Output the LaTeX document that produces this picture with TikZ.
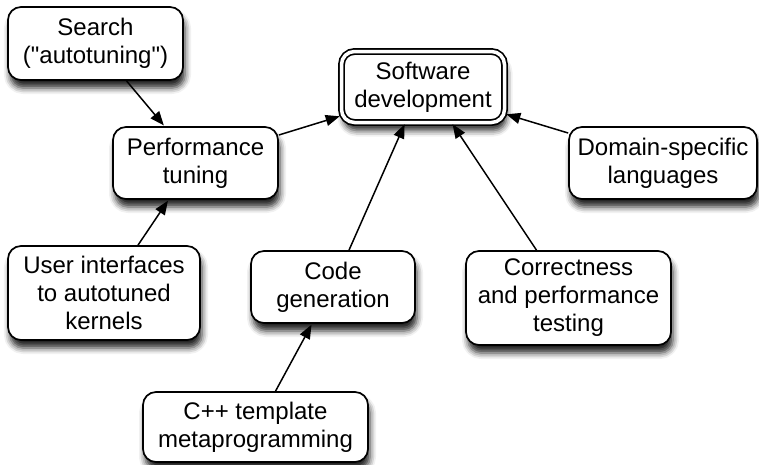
\documentclass[tikz,border=0pt]{standalone}
\usepackage{fontspec}
\setmainfont{Liberation Sans}[Ligatures=TeXOff]
\usepackage{tikz}
\usetikzlibrary{arrows.meta,%
                shadows.blur}

\begin{document}
\begin{tikzpicture}[x=1pt,y=-1pt,
    boxstyle/.style={rectangle, rounded corners=13pt, draw=black, fill=white, line width=1.7pt,
        align=center, font=\fontsize{24}{28}\selectfont,
        blur shadow={shadow xshift=2pt, shadow yshift=-8pt, shadow blur radius=6pt, shadow opacity=85}},
    linkstyle/.style={line width=1.5pt, -{Triangle[length=14pt,width=11pt]}, shorten >=1pt}]
    \useasboundingbox (0,0) rectangle (759,464);
    \node (search) at (95.5,43.5)[boxstyle, minimum width=175pt, minimum height=73pt]{Search\\("autotuning")};
    \node (perf) at (195.5,163)[boxstyle, minimum width=165pt, minimum height=72pt]{Performance\\tuning};
    \node (soft) at (423,87)[boxstyle, double, double distance=3.5pt, minimum width=163pt, minimum height=71pt]{Software\\development};
    \node (dsl) at (663,163)[boxstyle, minimum width=188pt, minimum height=72pt]{Domain-specific\\languages};
    \node (ui) at (104,293)[boxstyle, minimum width=192pt, minimum height=94pt]{User interfaces\\to autotuned\\kernels};
    \node (codegen) at (333,287)[boxstyle, minimum width=164pt, minimum height=72pt]{Code\\generation};
    \node (test) at (568.5,298)[boxstyle, minimum width=205pt, minimum height=94pt]{Correctness\\and performance\\testing};
    \node (cpp) at (255.5,427)[boxstyle, minimum width=225pt, minimum height=70pt]{C++ template\\metaprogramming};
    \draw[linkstyle] ([xshift=31pt]search.south) -- ([xshift=-31pt]perf.north);
    \draw[linkstyle] ([yshift=28pt]perf.east) -- ([yshift=-29pt]soft.west);
    \draw[linkstyle] ([xshift=34pt]ui.north) -- ([xshift=-27pt]perf.south);
    \draw[linkstyle] ([xshift=16pt]codegen.north) -- ([xshift=-18pt]soft.south);
    \draw[linkstyle] ([xshift=-32pt]test.north) -- ([xshift=29pt]soft.south);
    \draw[linkstyle] ([yshift=30pt]dsl.west) -- ([yshift=-27pt]soft.east);
    \draw[linkstyle] ([xshift=20pt]cpp.north) -- ([xshift=-21pt]codegen.south);
\end{tikzpicture}
\end{document}
